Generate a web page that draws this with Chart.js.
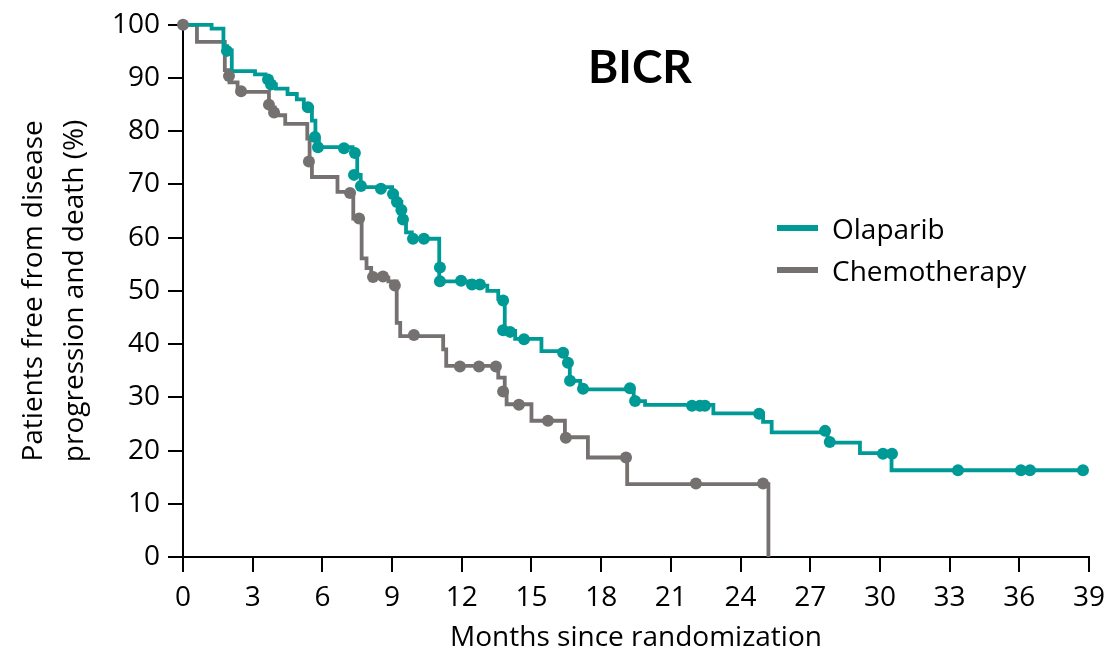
<!DOCTYPE html>
<html>
<head>
<meta charset="utf-8">
<script src="https://cdn.jsdelivr.net/npm/chart.js@4.4.1/dist/chart.umd.min.js"></script>
<style>
  body { margin: 0; background: #fff; }
  #wrap { position: relative; width: 1109px; height: 656px; font-family: "Open Sans", sans-serif; }
  #title { position: absolute; left: 588px; top: 38px; font-family: Lato, sans-serif; font-size: 46px; font-weight: bold; color: #000; }
  #legend { position: absolute; left: 777px; top: 207px; }
  .item { display: flex; align-items: center; height: 42px; font-size: 28px; color: #000; }
  .swatch { width: 41px; height: 6px; margin-right: 14px; }
</style>
</head>
<body>
<div id="wrap">
  <canvas id="kmChart"></canvas>
  <div id="title">BICR</div>
  <div id="legend"></div>
</div>
<script>
// Kaplan-Meier step values (months, % free from progression/death)
const olaTime = [0, 1.23, 1.74, 1.9, 2.1, 3.1, 3.55, 3.8, 4.0, 4.5, 4.9, 5.2, 5.55, 5.7, 5.85, 7.3, 7.5, 7.65, 9.0, 9.2, 9.4, 9.45, 9.6, 9.85, 11.03, 12.45, 13.1, 13.57, 13.85, 14.3, 15.43, 16.5, 16.65, 17.1, 19.4, 19.89, 22.83, 24.97, 25.34, 27.75, 29.14, 30.5, 38.73];
const olaSurv = [100, 99.3, 96, 95.2, 91.3, 90.7, 89.6, 88.8, 88, 87, 86, 84.5, 82, 78.6, 77, 75.8, 71.8, 69.5, 68.3, 66.7, 65.2, 63.4, 61, 59.8, 51.8, 51, 50, 48.5, 42.5, 41, 38.7, 36.5, 33.1, 31.5, 29.3, 28.6, 27, 25.4, 23.4, 21.5, 19.5, 16.3, 16.3];

const chemoTime = [0, 0.6, 1.8, 2.0, 2.35, 3.7, 3.95, 4.4, 5.35, 5.45, 5.55, 6.65, 7.33, 7.69, 7.9, 8.1, 8.84, 9.2, 9.35, 11.2, 11.33, 13.57, 13.85, 13.93, 15.0, 16.44, 17.43, 19.12, 25.2];
const chemoSurv = [100, 96.8, 91.5, 89.2, 87.4, 84.5, 83, 81.4, 78.6, 74.3, 71.4, 68.6, 63.6, 56.1, 54.3, 52.5, 51.8, 44, 41.5, 39, 35.9, 33.7, 31, 28.7, 25.6, 22.5, 18.7, 13.7, 0];

// censored observations
const olaCensorTime = [1.89, 3.66, 3.79, 5.38, 5.68, 5.81, 6.93, 7.4, 7.36, 7.66, 8.52, 9.04, 9.21, 9.4, 9.47, 9.9, 10.37, 11.06, 11.06, 11.97, 12.44, 12.78, 13.78, 13.78, 14.08, 14.68, 16.36, 16.57, 16.66, 17.22, 19.24, 19.46, 21.91, 22.25, 22.47, 24.8, 27.64, 27.84, 30.13, 30.52, 33.36, 36.07, 36.46, 38.74];
const olaCensorSurv = [95.1, 89.7, 88.8, 84.5, 78.9, 77, 76.8, 75.9, 71.8, 69.7, 69.2, 68.2, 66.7, 65.2, 63.4, 59.8, 59.8, 54.4, 51.8, 51.9, 51.2, 51.2, 48.2, 42.6, 42.3, 40.9, 38.4, 36.5, 33.1, 31.6, 31.7, 29.3, 28.4, 28.4, 28.4, 26.9, 23.7, 21.6, 19.4, 19.4, 16.3, 16.3, 16.3, 16.3];

const chemoCensorTime = [0, 1.98, 2.5, 3.7, 3.92, 5.42, 7.19, 7.58, 8.18, 8.61, 9.12, 9.94, 11.92, 12.74, 13.47, 13.78, 14.46, 15.71, 16.48, 19.07, 22.08, 24.97];
const chemoCensorSurv = [100, 90.4, 87.5, 85, 83.5, 74.3, 68.4, 63.6, 52.6, 52.7, 51, 41.7, 35.8, 35.8, 35.8, 31.1, 28.6, 25.6, 22.4, 18.7, 13.8, 13.8];

const xTicks = [0, 3, 6, 9, 12, 15, 18, 21, 24, 27, 30, 33, 36, 39];

const teal = '#009a96';
const grey = '#767171';

const pts = (xs, ys) => xs.map((x, i) => ({ x: x, y: ys[i] }));

const font = { family: '"Open Sans", sans-serif', size: 28 };

const chart = new Chart(document.getElementById('kmChart'), {
    type: 'line',
    data: {
        datasets: [
            {
                label: 'Chemotherapy censored',
                data: pts(chemoCensorTime, chemoCensorSurv),
                showLine: false,
                pointRadius: 6,
                pointBackgroundColor: grey,
                pointBorderWidth: 0,
                clip: false,
            },
            {
                label: 'Olaparib censored',
                data: pts(olaCensorTime, olaCensorSurv),
                showLine: false,
                pointRadius: 6,
                pointBackgroundColor: teal,
                pointBorderWidth: 0,
                clip: false,
            },
            {
                label: 'Olaparib',
                data: pts(olaTime, olaSurv),
                stepped: true,
                borderColor: teal,
                borderWidth: 3.8,
                pointRadius: 0,
                fill: false,
                clip: false,
            },
            {
                label: 'Chemotherapy',
                data: pts(chemoTime, chemoSurv),
                stepped: true,
                borderColor: grey,
                borderWidth: 3.8,
                pointRadius: 0,
                fill: false,
                clip: false,
            },
        ]
    },
    options: {
        responsive: true,
        maintainAspectRatio: false,
        animation: false,
        layout: { padding: { top: 22, right: 20, left: 0, bottom: 0 } },
        plugins: {
            legend: { display: false },
            tooltip: { enabled: false },
        },
        scales: {
            x: {
                type: 'linear',
                min: 0,
                max: 39,
                afterBuildTicks: (scale) => { scale.ticks = xTicks.map(v => ({ value: v })); },
                afterFit: (scale) => {
                    scale.height = 99;
                    // keep the plot edge fixed; "39" fits inside the layout padding
                    scale.paddingLeft = 0;
                    scale.paddingRight = 0;
                },
                border: { color: '#000', width: 2 },
                grid: { drawOnChartArea: false, tickLength: 15, color: '#000', lineWidth: 2 },
                ticks: { color: '#000', font: font, padding: 9, maxRotation: 0, autoSkip: false },
                title: {
                    display: true,
                    text: 'Months since randomization',
                    color: '#000',
                    font: font,
                    padding: { top: 0, bottom: 1 },
                },
            },
            y: {
                min: 0,
                max: 100,
                afterFit: (scale) => { scale.width = 183; },
                border: { color: '#000', width: 2 },
                grid: { drawOnChartArea: false, tickLength: 15, color: '#000', lineWidth: 2 },
                ticks: { stepSize: 10, color: '#000', font: font, padding: 8 },
                title: {
                    display: true,
                    text: ['Patients free from disease', 'progression and death (%)'],
                    color: '#000',
                    font: { family: font.family, size: 28, lineHeight: 1.45 },
                    padding: { top: 14, bottom: 0 },
                },
            },
        },
    },
});

// legend built from the two curve datasets
const legend = document.getElementById('legend');
chart.data.datasets.filter(d => d.stepped).forEach(d => {
    const row = document.createElement('div');
    row.className = 'item';
    row.innerHTML = '<span class="swatch" style="background:' + d.borderColor + '"></span>' + d.label;
    legend.appendChild(row);
});
</script>
</body>
</html>
